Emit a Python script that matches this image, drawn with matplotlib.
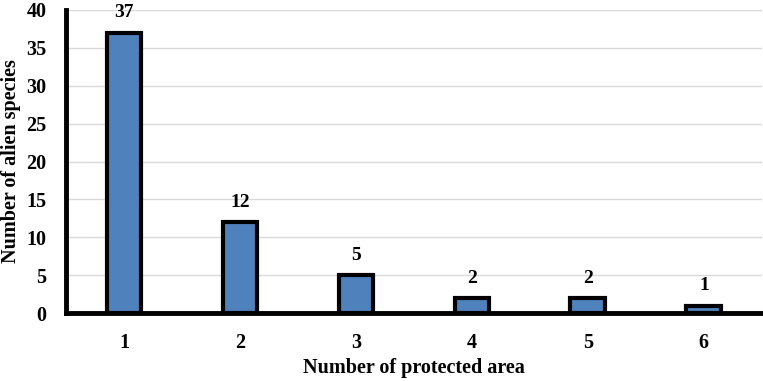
import matplotlib.pyplot as plt

areas = ['1', '2', '3', '4', '5', '6']
species = [37, 12, 5, 2, 2, 1]

plt.rcParams['font.family'] = ['Liberation Serif', 'DejaVu Serif']
plt.rcParams['font.weight'] = 'bold'

fig = plt.figure(figsize=(7.63, 3.81), dpi=100)
ax = fig.add_axes([0.0865, 0.178, 0.912, 0.796])

x = range(1, len(areas) + 1)
bars = ax.bar(x, species, width=0.30, color='#4F81BD', edgecolor='black', linewidth=3, zorder=3)

for b, v in zip(bars, species):
    ax.text(b.get_x() + b.get_width() / 2, v + 1.5, str(v), ha='center', va='bottom',
            fontsize=14, fontweight='bold')

ax.set_xlim(0.5, 6.5)
ax.set_ylim(0, 40)
ax.set_yticks(range(0, 41, 5))
ax.set_xticks(list(x))
ax.set_xticklabels(areas)
ax.tick_params(axis='both', length=0, labelsize=14.5)
ax.tick_params(axis='x', pad=14)
ax.tick_params(axis='y', pad=14)
ax.grid(axis='y', color='#d9d9d9', linewidth=1, zorder=0)

for s in ['top', 'right']:
    ax.spines[s].set_visible(False)
ax.spines['left'].set_linewidth(3.5)
ax.spines['bottom'].set_linewidth(3.5)

ax.set_xlabel('Number of protected area', fontsize=14.5, fontweight='bold', labelpad=4)
ax.set_ylabel('Number of alien species', fontsize=14.5, fontweight='bold', labelpad=4)

fig.savefig('out.png', dpi=100)
